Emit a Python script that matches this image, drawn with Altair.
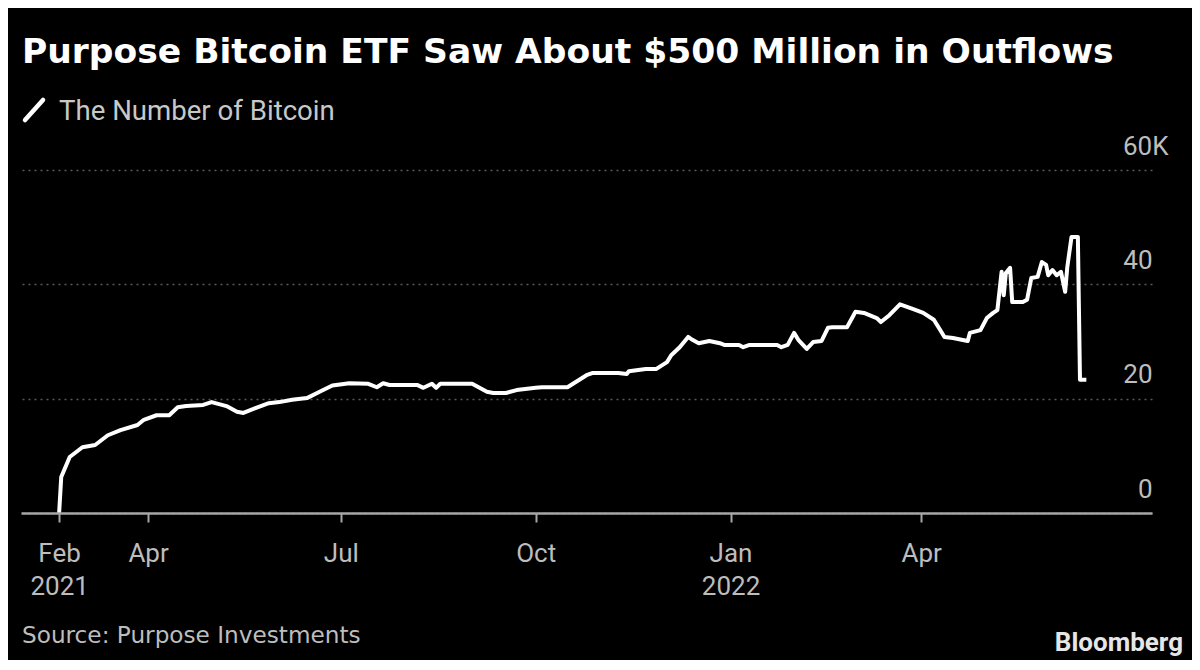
import altair as alt
import pandas as pd

# ---- data ----
dates = [
    "2021-02-18", "2021-02-19", "2021-02-23", "2021-03-01", "2021-03-07", "2021-03-13",
    "2021-03-19", "2021-03-27", "2021-03-30", "2021-04-05", "2021-04-11", "2021-04-15",
    "2021-04-19", "2021-04-27", "2021-05-01", "2021-05-08", "2021-05-13", "2021-05-16",
    "2021-05-22", "2021-05-28", "2021-06-02", "2021-06-08", "2021-06-15", "2021-06-21",
    "2021-06-27", "2021-07-05", "2021-07-14", "2021-07-18", "2021-07-21", "2021-07-24",
    "2021-08-06", "2021-08-09", "2021-08-13", "2021-08-15", "2021-08-17", "2021-09-01",
    "2021-09-08", "2021-09-11", "2021-09-17", "2021-09-22", "2021-10-01", "2021-10-04",
    "2021-10-16", "2021-10-25", "2021-10-28", "2021-11-09", "2021-11-13", "2021-11-14",
    "2021-11-22", "2021-11-27", "2021-12-02", "2021-12-04", "2021-12-08", "2021-12-12",
    "2021-12-14", "2021-12-17", "2021-12-22", "2021-12-27", "2021-12-29", "2022-01-05",
    "2022-01-07", "2022-01-10", "2022-01-23", "2022-01-25", "2022-01-28", "2022-01-31",
    "2022-02-02", "2022-02-06", "2022-02-09", "2022-02-13", "2022-02-16", "2022-02-18",
    "2022-02-25", "2022-03-01", "2022-03-05", "2022-03-11", "2022-03-13", "2022-03-17",
    "2022-03-22", "2022-03-28", "2022-04-02", "2022-04-07", "2022-04-10", "2022-04-12",
    "2022-04-16", "2022-04-23", "2022-04-24", "2022-04-29", "2022-05-02", "2022-05-05",
    "2022-05-07", "2022-05-09", "2022-05-10", "2022-05-11", "2022-05-13", "2022-05-14",
    "2022-05-19", "2022-05-21", "2022-05-23", "2022-05-26", "2022-05-28", "2022-05-30",
    "2022-05-31", "2022-06-02", "2022-06-04", "2022-06-06", "2022-06-08", "2022-06-09",
    "2022-06-11", "2022-06-14", "2022-06-15", "2022-06-18",
]
bitcoin = [
    0, 6300, 9800, 11500, 11900, 13600,
    14500, 15400, 16300, 17100, 17100, 18500,
    18700, 18900, 19400, 18700, 17700, 17500,
    18400, 19200, 19400, 19800, 20100, 21200,
    22300, 22700, 22600, 22000, 22700, 22400,
    22400, 21900, 22600, 21900, 22600, 22600,
    21200, 21000, 21000, 21500, 21900, 22000,
    22000, 24100, 24500, 24500, 24300, 24800,
    25200, 25200, 26400, 27600, 29000, 30800,
    30300, 29700, 30100, 29700, 29400, 29400,
    29000, 29400, 29400, 29000, 29400, 31500,
    30300, 28700, 29900, 30100, 32400, 32500,
    32500, 35200, 35000, 34100, 33400, 34600,
    36500, 35700, 35000, 33800, 32000, 30800,
    30600, 30100, 31500, 32000, 34100, 35000,
    35500, 42200, 38100, 42000, 42900, 36900,
    36900, 37300, 41100, 41300, 43900, 43400,
    41600, 42500, 41600, 42200, 38700, 43000,
    48300, 48300, 23300, 23300,
]
y_ticks = [0, 20000, 40000, 60000]
x_ticks = [(2021, 2, 18), (2021, 4, 1), (2021, 7, 1), (2021, 10, 1), (2022, 1, 1), (2022, 4, 1)]
x_domain = [(2021, 1, 31), (2022, 7, 19)]

title_text = "Purpose Bitcoin ETF Saw About $500 Million in Outflows"
legend_text = "The Number of Bitcoin"
source_text = "Source: Purpose Investments"
brand_text = "Bloomberg"

df = pd.DataFrame({"date": dates, "btc": bitcoin})

def dt(t):
    return alt.DateTime(year=t[0], month=t[1], date=t[2], utc=True)

W, H = 1131, 343

x_axis = alt.Axis(
    values=[dt(t) for t in x_ticks],
    labelExpr=(
        "(utcmonth(datum.value) == 0 || (utcyear(datum.value) == 2021 && utcmonth(datum.value) == 1))"
        " ? [utcFormat(datum.value, '%b'), utcFormat(datum.value, '%Y')]"
        " : utcFormat(datum.value, '%b')"
    ),
    title=None, grid=False, domain=True, domainColor="#a6a6a6", domainWidth=2.5,
    ticks=True, tickColor="#a6a6a6", tickSize=9, tickWidth=2,
    labelFont="Roboto", labelFontSize=26, labelColor="#bdbdbd",
    labelBaseline="top", labelPadding=18, labelLineHeight=33,
    labelAlign="center", labelOverlap=False, labelFlush=False, zindex=1,
)

y_axis = alt.Axis(
    orient="right", values=y_ticks, title=None,
    grid=True, gridDash=[2, 4], gridColor="#5a5a5a", gridWidth=1.5,
    domain=False, ticks=False,
    labelFont="Roboto", labelFontSize=26, labelColor="#bdbdbd",
    labelAlign="right", labelBaseline="alphabetic", labelOffset=-16,
    labelPadding={"condition": {"test": "datum.value == 60000", "value": 16}, "value": 0},
    labelExpr="datum.value == 60000 ? '60K' : format(datum.value / 1000, 'd')",
    labelOverlap=False,
)

line = alt.Chart(df).mark_line(color="white", strokeWidth=4, strokeJoin="round").encode(
    x=alt.X("date:T", scale=alt.Scale(domain=[dt(t) for t in x_domain], nice=False), axis=x_axis),
    y=alt.Y("btc:Q", scale=alt.Scale(domain=[0, 60000], nice=False), axis=y_axis),
)

def label(text, x, y, size, font, color, weight="normal", align="left"):
    return alt.Chart(pd.DataFrame({"t": [text]})).mark_text(
        font=font, fontSize=size, fontWeight=weight, color=color,
        align=align, baseline="alphabetic",
    ).encode(text="t:N", x=alt.value(x), y=alt.value(y))

title = label(title_text, 1, -107, 34.5, "DejaVu Sans", "#ffffff", weight="bold")
legend_txt = label(legend_text, 38, -50, 27.6, "Roboto", "#c8c8c8")
legend_mark = alt.Chart(pd.DataFrame({"k": [legend_text]})).mark_rule(
    color="white", strokeWidth=4.5, strokeCap="round"
).encode(x=alt.value(4), x2=alt.value(22), y=alt.value(-50), y2=alt.value(-70))
source = label(source_text, 1, 473, 23.2, "DejaVu Sans", "#bdbdbd")
brand = label(brand_text, 1162, 481, 26, "Roboto", "#e6e6e6", weight="bold", align="right")

chart = alt.layer(line, title, legend_mark, legend_txt, source, brand).properties(
    width=W, height=H,
    autosize=alt.AutoSizeParams(type="none"),
    padding={"left": 13, "top": 162, "right": 40, "bottom": 147},
    background="black",
).configure_view(stroke=None)

chart.save("out.html", embed_options={"renderer": "svg", "actions": False})
